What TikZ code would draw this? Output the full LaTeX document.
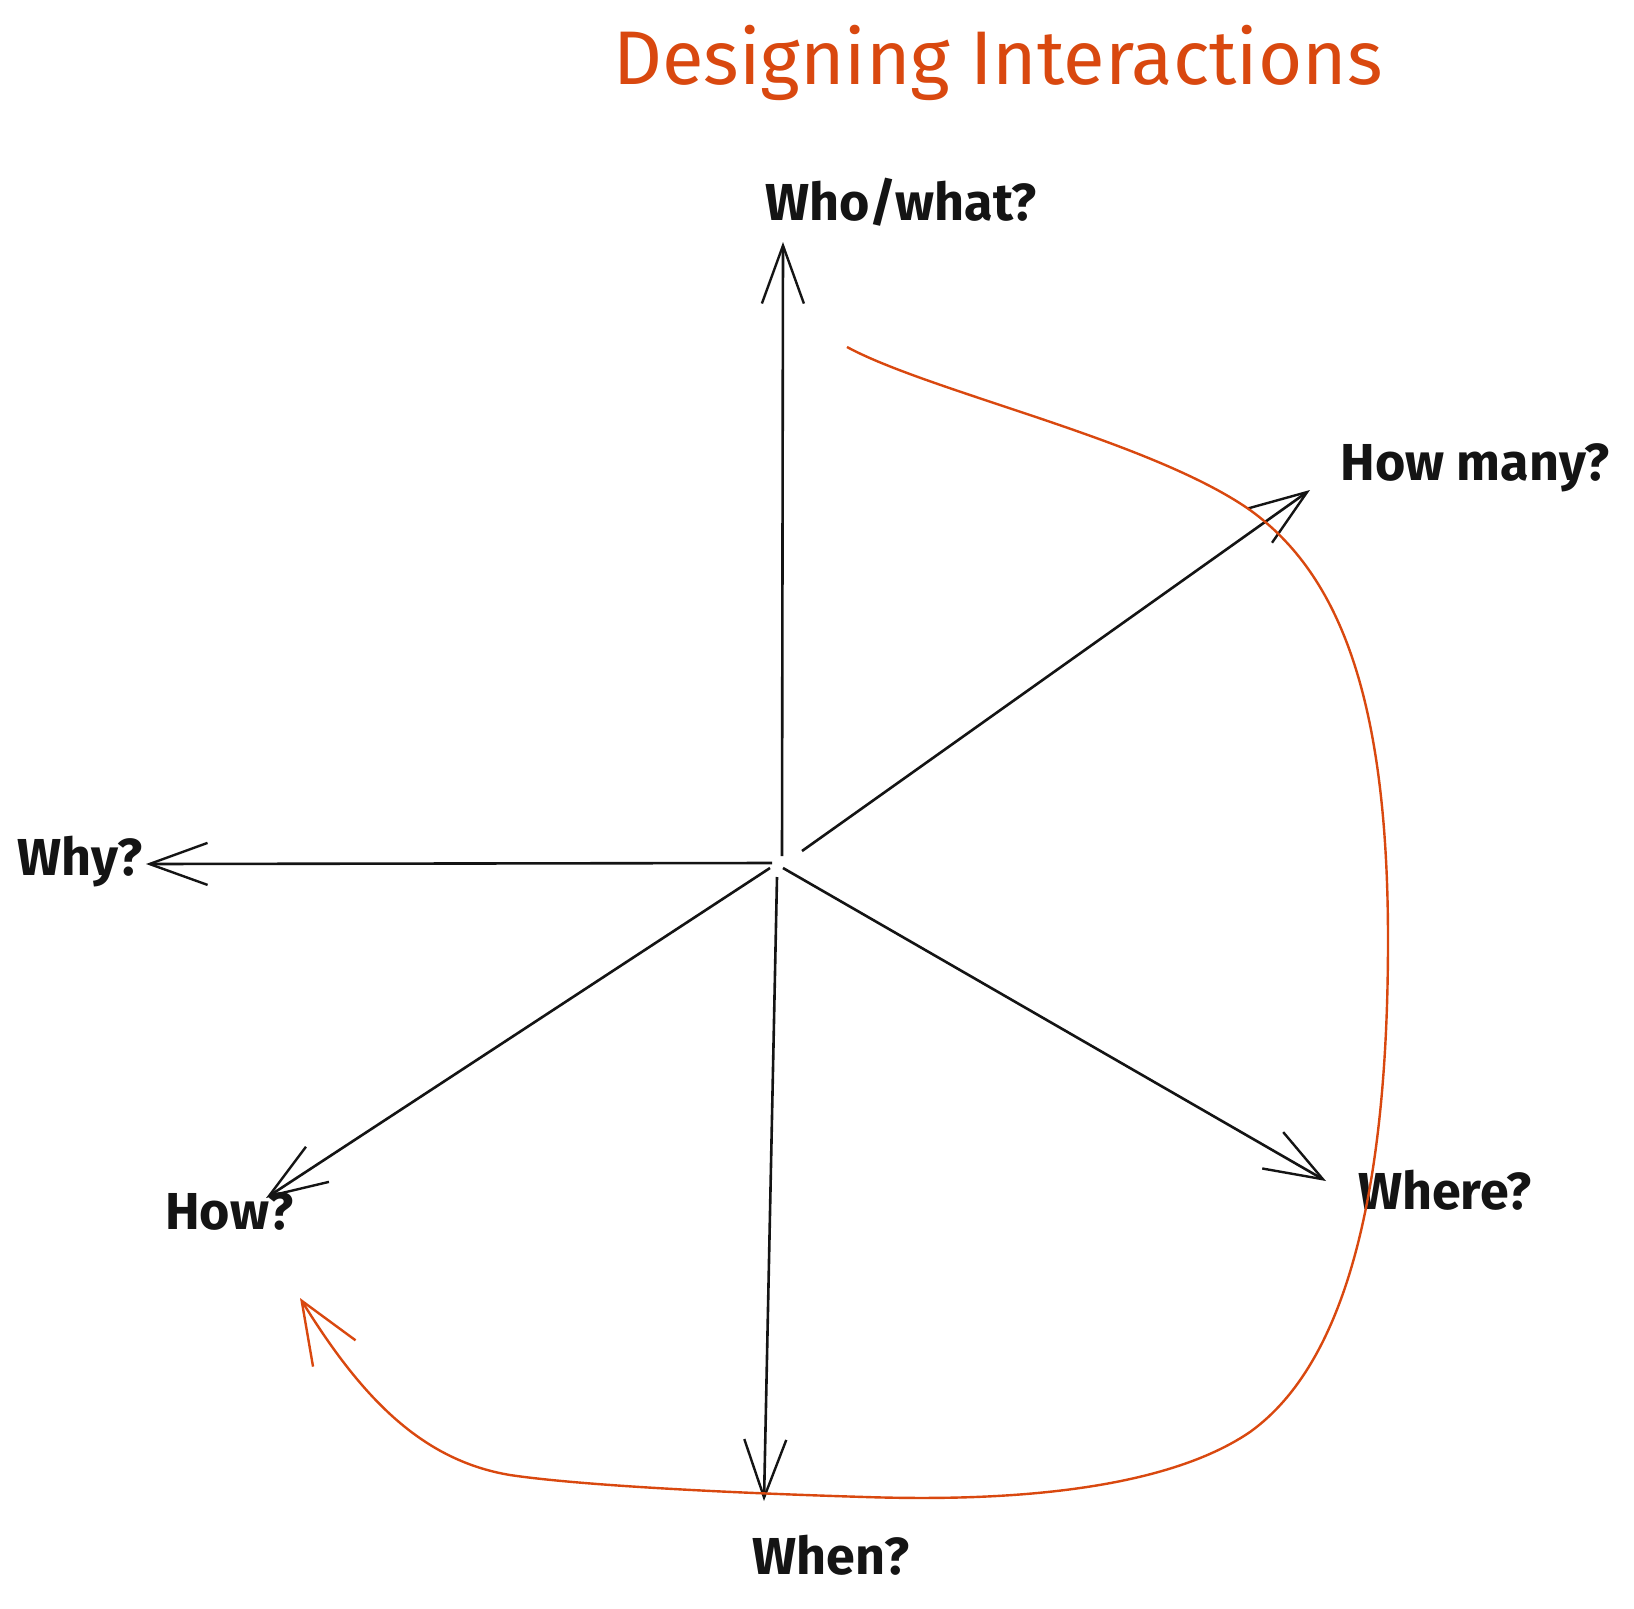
\documentclass[tikz,border=0pt]{standalone}
\usepackage{fontspec}
\setmainfont{Fira Sans}
\usetikzlibrary{arrows.meta}
\definecolor{ink}{RGB}{20,20,20}
\definecolor{orng}{RGB}{217,72,15}
\tikzset{
  spoke/.style={draw=ink, line width=2.6pt, -{Straight Barb[length=58pt,width=42pt,line width=2.4pt]}},
  loopline/.style={draw=orng, line width=2.4pt, -{Straight Barb[length=62pt,width=50pt,line width=2.4pt]}},
  lbl/.style={font=\fontsize{52}{56}\selectfont\bfseries, text=ink, inner sep=0pt},
  ttl/.style={font=\fontsize{76}{82}\selectfont\mdseries, text=orng, inner sep=0pt}
}
\begin{document}
\begin{tikzpicture}[x=1pt,y=-1pt]
\useasboundingbox[fill=white] (0,0) rectangle (1634,1609);
% title and labels
\node[ttl] (title) at (998,63) {Designing Interactions};
\node[lbl] (who) at (901,202) {Who/what?};
\node[lbl] (howmany) at (1475,468) {How many?};
\node[lbl] (why) at (80,862) {Why?};
\node[lbl] (how) at (229,1211) {How?};
\node[lbl] (where) at (1445,1190) {Where?};
\node[lbl] (when) at (831,1555) {When?};
% spoke start and end points
\coordinate (sWho) at (782,856);   \coordinate (tWho) at (783,242);
\coordinate (sMany) at (802,851);  \coordinate (tMany) at (1310,490);
\coordinate (sWhy) at (772,863);   \coordinate (tWhy) at (146,864);
\coordinate (sHow) at (770,868);   \coordinate (tHow) at (266,1198);
\coordinate (sWhen) at (777,877);  \coordinate (tWhen) at (764,1501);
\coordinate (sWhere) at (783,868); \coordinate (tWhere) at (1326,1181);
\draw[spoke] (sWho) -- (tWho);
\draw[spoke] (sMany) -- (tMany);
\draw[spoke] (sWhy) -- (tWhy);
\draw[spoke] (sHow) -- (tHow);
\draw[spoke] (sWhen) -- (tWhen);
\draw[spoke] (sWhere) -- (tWhere);
% orange loop
\coordinate (loopStart) at (847,347);
\coordinate (loopEnd) at (300,1298);
\draw[loopline] (loopStart)
  .. controls (930,392) and (1150,440) .. (1250,510)
  .. controls (1340,575) and (1388,700) .. (1388,940)
  .. controls (1388,1180) and (1350,1360) .. (1250,1432)
  .. controls (1150,1500) and (960,1500) .. (865,1497)
  .. controls (700,1492) and (570,1484) .. (510,1475)
  .. controls (420,1460) and (360,1395) .. (loopEnd);
\end{tikzpicture}
\end{document}
